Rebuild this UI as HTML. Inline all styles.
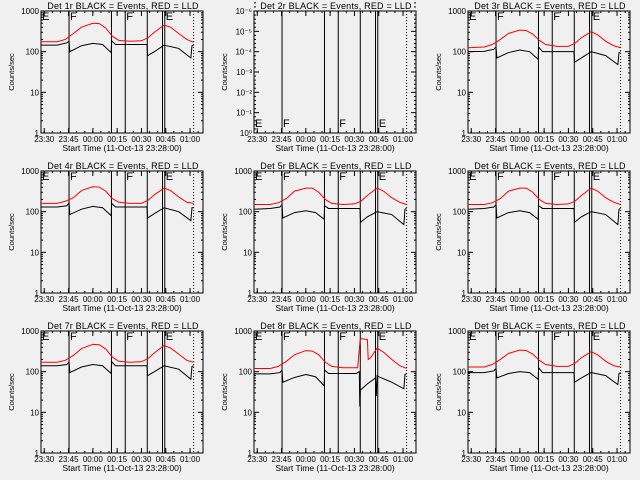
<!DOCTYPE html>
<html><head><meta charset="utf-8">
<style>
html,body{margin:0;padding:0;background:#f0f0f0;}
svg{display:block;font-family:"Liberation Sans",sans-serif;}
</style></head>
<body>
<svg id="chart" width="640" height="480" viewBox="0 0 640 480">
<rect x="0" y="0" width="640" height="480" fill="#f0f0f0"/>
</svg>
<script>
// Shared time grids (minutes after 23:28:00)
const timesBlack = [0,10,16,17.3,17.8,25,32,38,43.3,43.6,46,65.4,65.8,70,76,85,92.5,93.2,94.2];
const timesRed = [0,10,15,20,25,32,36,40,44,48,55,62,66,70,76,80,85,90,94.2];
const timesBlack8 = [0,10,16,17.3,17.8,25,32,38,43.3,43.6,46,63,65.0,65.3,65.6,70,75,75.5,76,77,85,92.5,93.2,94.2];
const timesRed8 = [0,10,15,20,25,32,36,40,44,48,55,64,65.5,66,70,70.5,72,76,80,85,90,94.2];

const black1 = [145,145,165,180,100,140,160,150,95,185,150,150,80,100,145,120,70,140,145];
const red1 = [175,175,200,280,400,500,490,380,240,190,180,185,220,300,450,400,280,200,170];
const black3 = [100,102,115,130,70,95,110,100,65,130,100,100,55,70,100,80,48,95,100];
const red3 = [125,130,150,200,280,340,330,270,190,150,135,135,160,220,310,260,180,140,125];
const black4 = [130,130,140,165,85,115,135,125,80,160,130,130,70,90,125,100,60,125,125];
const red4 = [160,160,180,220,330,410,400,320,210,170,160,160,190,260,380,330,230,170,160];
const black5 = [115,120,130,150,70,95,105,95,65,140,120,120,55,75,100,85,48,115,120];
const red5 = [150,150,165,210,320,380,380,300,200,160,150,155,180,250,380,320,220,170,150];
const black7 = [140,140,150,175,95,130,150,140,90,175,140,140,80,100,140,115,65,135,140];
const red7 = [170,170,190,250,370,470,460,360,230,180,170,175,210,290,440,380,270,190,170];
const black8 = [88,88,95,110,55,72,85,75,45,110,90,90,100,14,35,50,70,25,80,75,55,38,85,90];
const red8 = [120,120,135,180,260,330,320,260,170,135,125,125,600,650,620,200,220,380,300,200,140,120];
const black9 = [95,95,105,120,70,90,100,95,65,125,95,95,55,70,95,80,48,90,95];
const red9 = [130,130,150,200,280,340,330,270,190,150,135,135,160,220,310,260,180,140,130];

const xTickLabels = ["23:30","23:45","00:00","00:15","00:30","00:45","01:00"];
const xTickMinutes = [2,17,32,47,62,77,92];
const yTickLabels = ["1","10","100","1000"];
const emptyTickLabels = ["10\u2070","10\u207B\u00B9","10\u207B\u00B2","10\u207B\u00B3","10\u207B\u2074","10\u207B\u2075","10\u207B\u2076"];
const eventLines = [17.3,43.5,52,65.6,75,76.4];
const eventLabels = [[0,"E"],[17.3,"F"],[52,"F"],[76.4,"E"]];
const dottedLine = 94.2;

const panels = [
 {n:"1",b:black1,r:red1,tb:timesBlack,tr:timesRed},
 {n:"2",empty:true},
 {n:"3",b:black3,r:red3,tb:timesBlack,tr:timesRed},
 {n:"4",b:black4,r:red4,tb:timesBlack,tr:timesRed},
 {n:"5",b:black5,r:red5,tb:timesBlack,tr:timesRed},
 {n:"6",b:black5,r:red5,tb:timesBlack,tr:timesRed},
 {n:"7",b:black7,r:red7,tb:timesBlack,tr:timesRed},
 {n:"8",b:black8,r:red8,tb:timesBlack8,tr:timesRed8},
 {n:"9",b:black9,r:red9,tb:timesBlack,tr:timesRed}
];

const svg = document.getElementById('chart');
const NS = "http://www.w3.org/2000/svg";
function mk(tag, attrs, parent){const e=document.createElementNS(NS,tag);for(const k in attrs)e.setAttribute(k,attrs[k]);parent.appendChild(e);return e;}

const PW=162, PH=122, TMAX=100;
panels.forEach((p,i)=>{
  const col=i%3,row=Math.floor(i/3);
  const ox=Math.round(col*213.33)+41, oy=row*160+11;
  const g=mk('g',{},svg);
  
  
  const xs=t=>ox+t/TMAX*PW;
  const ys=v=>oy+PH-(Math.log10(v)/3)*PH;
  const tt=mk('text',{x:ox+PW/2+1,y:oy-2,'text-anchor':'middle','font-size':'9','letter-spacing':'0.2'},g);
  tt.textContent='Det '+p.n+'r BLACK = Events, RED = LLD';
  
  
  const yt=mk('text',{x:0,y:0,'text-anchor':'middle','font-size':'7.5',transform:`translate(${ox-27},${oy+PH/2}) rotate(-90)`},g);
  yt.textContent='Counts/sec';
  
  
  xTickLabels.forEach((lab,k)=>{
    const x=xs(xTickMinutes[k]);
    const t=mk('text',{x:x,y:oy+PH+9,'text-anchor':'middle','font-size':'8'},g);
    t.textContent=lab;
    
    
    mk('line',{x1:x,x2:x,y1:oy+PH,y2:oy+PH-5,stroke:'#000'},g);
    mk('line',{x1:x,x2:x,y1:oy,y2:oy+5,stroke:'#000'},g);
  });
  for(let m=2;m<TMAX;m+=5){const x=xs(m);mk('line',{x1:x,x2:x,y1:oy+PH,y2:oy+PH-2,stroke:'#000'},g);mk('line',{x1:x,x2:x,y1:oy,y2:oy+2,stroke:'#000'},g);}
  const xt=mk('text',{x:ox+PW/2,y:oy+PH+18,'text-anchor':'middle','font-size':'8.5'},g);
  xt.textContent='Start Time (11-Oct-13 23:28:00)';
  
  
  if(p.empty){
    emptyTickLabels.forEach((lab,k)=>{
      const y=oy+PH-k*PH/6;
      const t=mk('text',{x:ox-2,y:y+3,'text-anchor':'end','font-size':'8'},g);
      t.textContent=lab;
      
      
      mk('line',{x1:ox,x2:ox+5,y1:y,y2:y,stroke:'#000'},g);
      mk('line',{x1:ox+PW,x2:ox+PW-5,y1:y,y2:y,stroke:'#000'},g);
      for(let s=1;s<5;s++){const yy=y-s*PH/30;mk('line',{x1:ox,x2:ox+2,y1:yy,y2:yy,stroke:'#000'},g);mk('line',{x1:ox+PW,x2:ox+PW-2,y1:yy,y2:yy,stroke:'#000'},g);}
    });
  } else {
    yTickLabels.forEach((lab,k)=>{
      const v=Math.pow(10,k), y=ys(v);
      const t=mk('text',{x:ox-2,y:y+3,'text-anchor':'end','font-size':'8'},g);
      t.textContent=lab;
      
      
      mk('line',{x1:ox,x2:ox+5,y1:y,y2:y,stroke:'#000'},g);
      mk('line',{x1:ox+PW,x2:ox+PW-5,y1:y,y2:y,stroke:'#000'},g);
      if(k<3)for(let s=2;s<10;s++){const yy=ys(v*s);mk('line',{x1:ox,x2:ox+2,y1:yy,y2:yy,stroke:'#000'},g);mk('line',{x1:ox+PW,x2:ox+PW-2,y1:yy,y2:yy,stroke:'#000'},g);}
    });
  }
  const fr=mk('rect',{x:ox,y:oy,width:PW,height:PH,fill:'none',stroke:'#000','stroke-width':'1'},g);
  
  
  eventLines.forEach(t=>{
    const l=mk('line',{x1:xs(t),x2:xs(t),y1:oy,y2:oy+PH,stroke:'#000','stroke-width':'1'},g);
    
    
  });
  const dl=mk('line',{x1:xs(dottedLine),x2:xs(dottedLine),y1:oy,y2:oy+PH,stroke:'#000','stroke-dasharray':'1,2'},g);
  
  
  eventLabels.forEach(([t,lab])=>{
    const y=p.empty?oy+PH-6:oy+9;
    const tx=mk('text',{x:xs(t)+1,y:y,'font-size':'11'},g);
    tx.textContent=lab;
    
    
  });
  if(!p.empty){
    const pr=mk('polyline',{points:p.tr.map((t,k)=>xs(t)+','+ys(p.r[k])).join(' '),fill:'none',stroke:'#ff0000','stroke-width':'1'},g);
    
    
    const pb=mk('polyline',{points:p.tb.map((t,k)=>xs(t)+','+ys(p.b[k])).join(' '),fill:'none',stroke:'#000','stroke-width':'1'},g);
    
    
  }
});
</script>
</body></html>
